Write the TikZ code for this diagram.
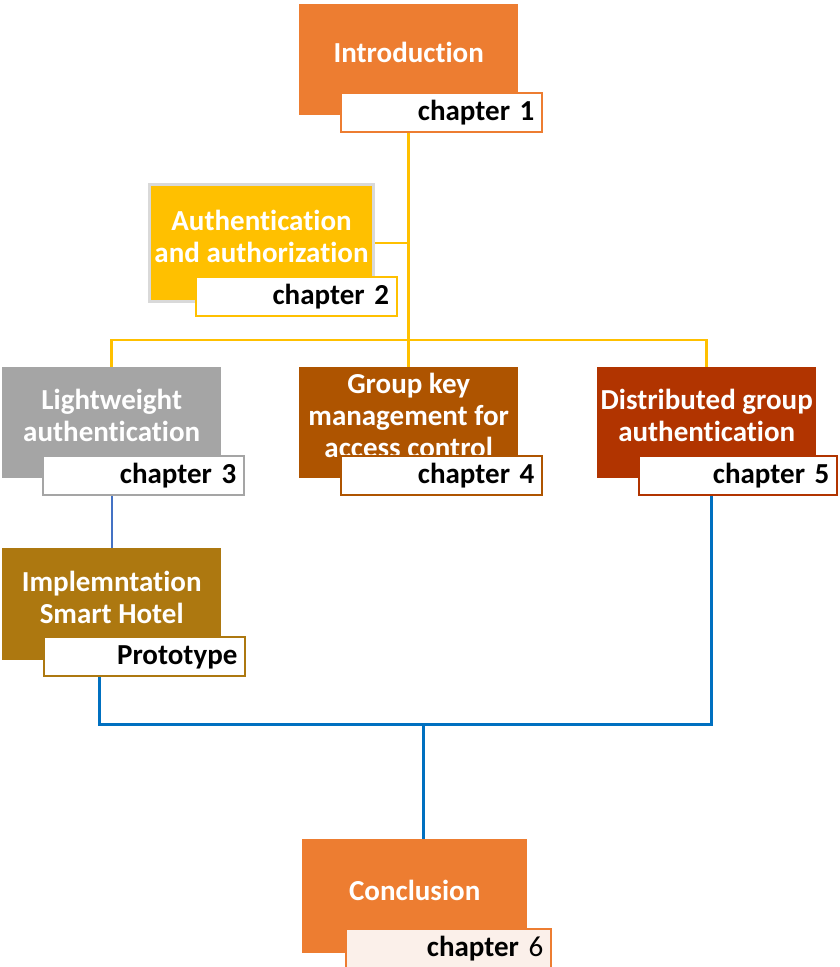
\documentclass[tikz,border=0pt]{standalone}
\usepackage{fontspec}
\setmainfont[Ligatures=NoCommon]{Carlito}
\usepackage{tikz}
\usetikzlibrary{calc}

\definecolor{introorange}{HTML}{ED7D31}
\definecolor{authyellow}{HTML}{FFC000}
\definecolor{lightgray}{HTML}{A5A5A5}
\definecolor{groupbrown}{HTML}{AE5400}
\definecolor{distred}{HTML}{B13400}
\definecolor{implgold}{HTML}{AD7810}
\definecolor{mainblue}{HTML}{0070C0}
\definecolor{softblue}{HTML}{4472C4}
\definecolor{paleorange}{HTML}{FBF0EA}
\definecolor{framegray}{HTML}{D9D9D9}

\begin{document}
\begin{tikzpicture}[x=1pt,y=-1pt,
    chbox/.style={rectangle,anchor=north west,minimum width=219pt,minimum height=111pt,inner sep=0pt},
    chtext/.style={text=white,font=\fontsize{29}{32}\selectfont\bfseries,align=center,inner sep=0pt},
    chlabel/.style={rectangle,draw,line width=2pt,fill=white,anchor=north east,minimum height=39pt,
        text width=185pt,align=right,inner xsep=8pt,inner ysep=0pt,font=\fontsize{29}{32}\selectfont\bfseries},
    yline/.style={authyellow,line width=2.5pt},
    bline/.style={mainblue,line width=3pt}]
\useasboundingbox (0,0) rectangle (839,967);

% Introduction
\node[chbox,fill=introorange] (intro) at (299,4) {};
\node[chtext] (intro-t) at ([yshift=7pt]intro.center) {Introduction};
\node[chlabel,draw=introorange] (intro-ch) at ($(intro.south east)+(25,-23)$) {chapter 1};

% Authentication and authorization
\node[chbox,fill=authyellow,draw=framegray,line width=3pt,minimum width=224pt,minimum height=117pt] (auth) at (148,183) {};
\node[chtext] (auth-t) at ([yshift=7pt]auth.center) {Authentication\\and authorization};
\node[chlabel,draw=authyellow] (auth-ch) at ($(auth.south east)+(23,-27)$) {chapter 2};

% Lightweight authentication
\node[chbox,fill=lightgray] (light) at (2,367) {};
\node[chtext] (light-t) at ([yshift=7pt]light.center) {Lightweight\\authentication};
\node[chlabel,draw=lightgray] (light-ch) at ($(light.south east)+(24,-23)$) {chapter 3};

% Group key management
\node[chbox,fill=groupbrown] (group) at (299,367) {};
\node[chtext] (group-t) at ([yshift=7pt]group.center) {Group key\\management for\\access control};
\node[chlabel,draw=groupbrown] (group-ch) at ($(group.south east)+(25,-23)$) {chapter 4};

% Distributed group authentication
\node[chbox,fill=distred] (dist) at (597,367) {};
\node[chtext] (dist-t) at ([yshift=7pt]dist.center) {Distributed group\\authentication};
\node[chlabel,draw=distred,text width=182pt] (dist-ch) at ($(dist.south east)+(22,-23)$) {chapter 5};

% Implementation
\node[chbox,fill=implgold,minimum height=112pt] (impl) at (2,548) {};
\node[chtext] (impl-t) at ([yshift=7pt]impl.center) {Implemntation\\Smart Hotel};
\node[chlabel,draw=implgold] (impl-ch) at ($(impl.south east)+(25,-24)$) {Prototype};

% Conclusion
\node[chbox,fill=introorange,minimum width=225pt,minimum height=114pt] (concl) at (302,839) {};
\node[chtext] (concl-t) at ([yshift=6pt]concl.center) {Conclusion};
\node[chlabel,draw=introorange,fill=paleorange,minimum width=205pt,text width=189pt] (concl-ch) at ($(concl.south east)+(25,-25)$) {chapter \mdseries 6};

% Yellow connectors
\draw[yline] (intro-ch.south -| group.north) -- (group.north);
\draw[yline] (auth.east) -- (auth.east -| group.north);
\draw[yline] (light.north) -- ++(0,-27) -| (dist.north);

% Blue connectors
\coordinate (merge) at (423,724);
\draw[softblue,line width=2pt] (light-ch.south -| light.north) -- (impl.north);
\draw[bline] ($(impl-ch.south west)+(56,0)$) |- (merge) -| ($(dist-ch.south west)+(73,0)$);
\draw[bline] (merge) -- (concl.north -| merge);
\end{tikzpicture}
\end{document}
